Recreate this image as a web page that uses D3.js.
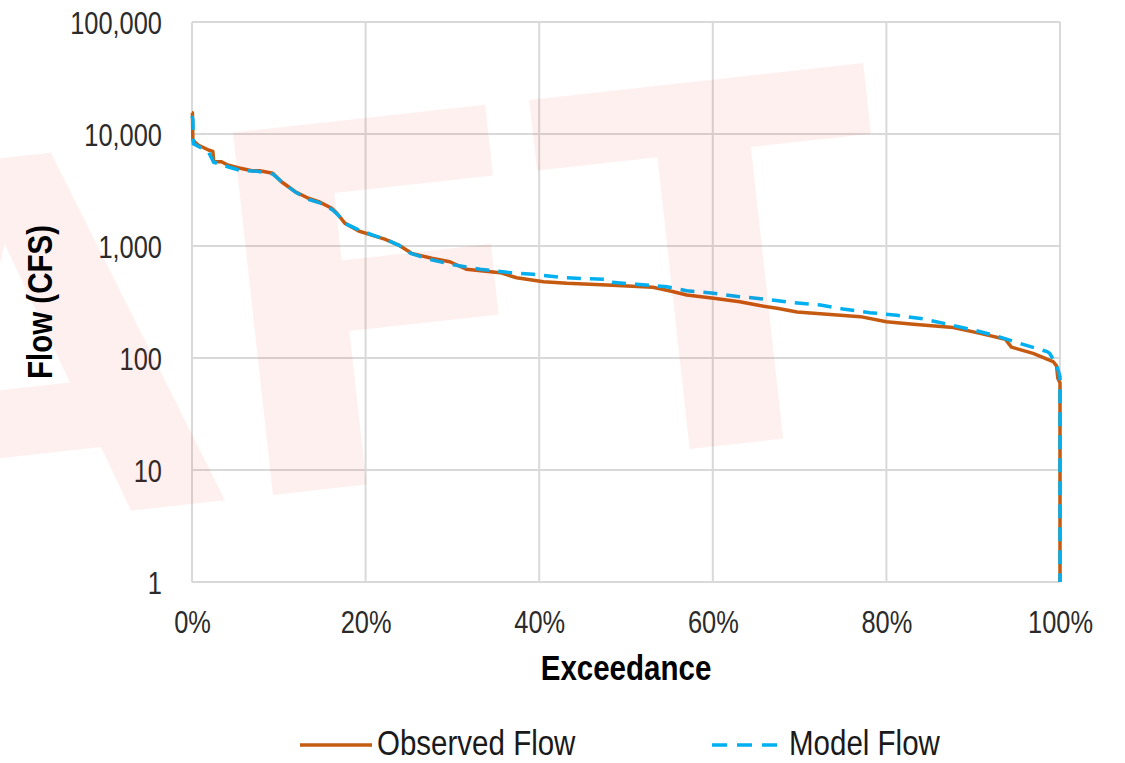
<!DOCTYPE html>
<html>
<head>
<meta charset="utf-8">
<script src="https://cdn.jsdelivr.net/npm/d3@7/dist/d3.min.js"></script>
<style>
  body { margin: 0; background: #fff; }
  text { font-family: "Liberation Sans", Arial, sans-serif; }
</style>
</head>
<body>
<div id="chart"></div>
<script>
// exceedance (%) and flow (cfs)
var obsExceed = [0, 0.05, 0.1, 0.7, 1.9, 2.4, 2.5, 3.4, 4.1, 5.3, 6.9, 7.8, 9.3, 10.3, 11.9, 13.4, 14.6, 16.1, 16.7, 17.6,
  19.2, 20.7, 22.2, 23.8, 25.3, 27.6, 29.7, 31.6, 35.5, 37.4, 40.5, 43.2, 47.8, 53.1, 55.1, 57.0, 60.1, 63.1, 65.4,
  67.4, 69.7, 77.0, 80.0, 83.1, 87.7, 90.8, 93.7, 94.4, 96.9, 99.2, 99.6, 99.75, 100, 100];
var obsFlow = [15500, 15500, 8800, 7980, 7200, 7000, 5660, 5650, 5290, 5000, 4700, 4700, 4460, 3750, 3050, 2670, 2490, 2170, 1960, 1600,
  1360, 1250, 1150, 1020, 860, 777, 723, 620, 578, 521, 480, 464, 448, 428, 396, 365, 341, 318, 294,
  278, 257, 234, 211, 200, 187, 166, 147, 125, 110, 93, 85, 66, 60, 1];

var modExceed = [0, 0.1, 0.15, 0.8, 1.9, 2.5, 3.3, 4.5, 5.5, 7.5, 9.3, 10.4, 12.0, 13.5, 14.8, 16.2, 16.8, 17.7, 19.3, 21.0,
  22.4, 24.0, 25.2, 27.4, 30.1, 33.2, 36.3, 39.3, 42.4, 45.5, 47.8, 48.4, 51.2, 54.7, 57.0, 60.1, 63.1, 66.2, 69.3,
  72.4, 75.0, 78.1, 81.2, 84.3, 87.0, 90.0, 92.7, 95.4, 98.5, 98.8, 99.6, 100, 100];
var modFlow = [14500, 13500, 8200, 7700, 6900, 5600, 5350, 5000, 4750, 4650, 4400, 3700, 3000, 2600, 2420, 2100, 1900, 1580, 1380, 1240,
  1140, 1000, 860, 760, 680, 620, 582, 559, 525, 510, 505, 474, 455, 433, 399, 378, 353, 334, 312,
  297, 274, 254, 241, 223, 201, 178, 157, 135, 114, 110, 87, 68, 1];

var xTicks = [0, 20, 40, 60, 80, 100];
var yTicks = [1, 10, 100, 1000, 10000, 100000];
var seriesNames = ["Observed Flow", "Model Flow"];
var seriesColors = ["#c55a11", "#00b0f0"];

var margin = {top: 22, right: 65, bottom: 181, left: 192};
var width = 1125 - margin.left - margin.right;
var height = 763 - margin.top - margin.bottom;
var squeeze = 0.82; // narrow font look

var root = d3.select("#chart")
  .append("svg")
    .attr("width", 1125)
    .attr("height", 763);

var svg = root.append("g")
    .attr("transform", "translate(" + margin.left + "," + margin.top + ")");

var x = d3.scaleLinear()
  .domain([0, 100])
  .range([0, width]);

var y = d3.scaleLog()
  .domain([1, 100000])
  .range([height, 0]);

// grid
svg.append("g")
  .selectAll("line.h")
  .data(yTicks)
  .enter().append("line")
    .attr("x1", 0)
    .attr("x2", width)
    .attr("y1", function(d) { return y(d) })
    .attr("y2", function(d) { return y(d) })
    .attr("stroke", "#d9d9d9")
    .attr("stroke-width", 2);
svg.append("g")
  .selectAll("line.v")
  .data(xTicks)
  .enter().append("line")
    .attr("x1", function(d) { return x(d) })
    .attr("x2", function(d) { return x(d) })
    .attr("y1", 0)
    .attr("y2", height)
    .attr("stroke", "#d9d9d9")
    .attr("stroke-width", 2);

// DRAFT watermark
var wm = root.append("g")
  .attr("opacity", 0.055)
  .attr("transform", "translate(227,500) rotate(-6.3)");
wm.append("text")
  .attr("x", 683)
  .attr("y", 0)
  .attr("text-anchor", "end")
  .style("font-family", "'DejaVu Sans', sans-serif")
  .style("font-weight", "bold")
  .style("font-size", "500px")
  .attr("fill", "#ff0000")
  .text("DRAFT");

// axes
var xAxis = svg.append("g")
  .attr("transform", "translate(0," + height + ")")
  .call(d3.axisBottom(x).tickValues(xTicks).tickSize(0).tickFormat(function(d) { return d + "%" }));
xAxis.select(".domain").remove();
xAxis.selectAll("text")
  .attr("y", 51)
  .attr("dy", null)
  .attr("transform", "scale(" + squeeze + ",1)")
  .attr("x", 0)
  .attr("fill", "#2b2b2b")
  .style("font-size", "31px");

var yAxis = svg.append("g")
  .call(d3.axisLeft(y).tickValues(yTicks).tickSize(0).tickFormat(d3.format(",")));
yAxis.select(".domain").remove();
yAxis.selectAll("text")
  .attr("x", -30 / squeeze)
  .attr("dy", "0.36em")
  .attr("transform", "scale(" + squeeze + ",1)")
  .attr("fill", "#2b2b2b")
  .style("font-size", "31px");

// titles
root.append("g")
  .attr("transform", "translate(626,680) scale(" + squeeze + ",1)")
  .append("text")
    .attr("text-anchor", "middle")
    .style("font-size", "36px")
    .style("font-weight", "bold")
    .attr("fill", "#000")
    .text("Exceedance");

root.append("g")
  .attr("transform", "translate(52,302) rotate(-90) scale(" + squeeze + ",1)")
  .append("text")
    .attr("text-anchor", "middle")
    .style("font-size", "36px")
    .style("font-weight", "bold")
    .attr("fill", "#000")
    .text("Flow (CFS)");

// series
var line = d3.line()
  .x(function(d) { return x(d[0]) })
  .y(function(d) { return y(d[1]) });

var modData = d3.zip(modExceed, modFlow);
var obsData = d3.zip(obsExceed, obsFlow);

svg.append("path")
  .datum(obsData)
  .attr("fill", "none")
  .attr("stroke", seriesColors[0])
  .attr("stroke-width", 3.5)
  .attr("stroke-linejoin", "round")
  .attr("d", line);

svg.append("path")
  .datum(modData)
  .attr("fill", "none")
  .attr("stroke", seriesColors[1])
  .attr("stroke-width", 3.5)
  .attr("stroke-dasharray", "14,9")
  .attr("d", line);

// legend
var legend = root.append("g");
var legendX = [300, 712];
seriesNames.forEach(function(name, i) {
  legend.append("line")
    .attr("x1", legendX[i])
    .attr("x2", legendX[i] + 72)
    .attr("y1", 745)
    .attr("y2", 745)
    .attr("stroke", seriesColors[i])
    .attr("stroke-width", 3.5)
    .attr("stroke-dasharray", i == 1 ? "15,10" : null);
  legend.append("g")
    .attr("transform", "translate(" + (legendX[i] + 77) + ",755) scale(" + squeeze + ",1)")
    .append("text")
      .style("font-size", "36px")
      .attr("fill", "#1a1a1a")
      .text(name);
});
</script>
</body>
</html>
